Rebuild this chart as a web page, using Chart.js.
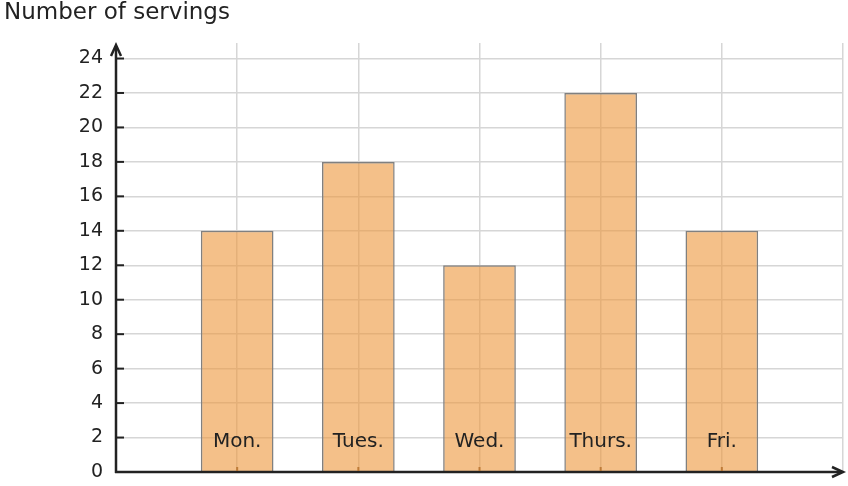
<!DOCTYPE html>
<html>
<head>
<meta charset="utf-8">
<script src="https://cdn.jsdelivr.net/npm/chart.js@4"></script>
<style>
  html, body { margin: 0; padding: 0; background: #fff; overflow: hidden; }
  #wrap { width: 848px; height: 486px; }
</style>
</head>
<body>
<div id="wrap"><canvas id="servings"></canvas></div>
<script>
// 요일별 급식 수
const days = ['', 'Mon.', 'Tues.', 'Wed.', 'Thurs.', 'Fri.', ''];
const servings = [null, 14, 18, 12, 22, 14, null];
const yTicks = [0, 2, 4, 6, 8, 10, 12, 14, 16, 18, 20, 22, 24];
const yTitle = 'Number of servings';

const FONT = '"DejaVu Sans", sans-serif';
const INK = '#222222';

// 축 화살표, 눈금, 요일 라벨
const axisDecor = {
    id: 'axisDecor',
    afterDatasetsDraw(chart) {
        const ctx = chart.ctx;
        const x = chart.scales.x, y = chart.scales.y;
        const left = chart.chartArea.left, bottom = y.getPixelForValue(0);
        ctx.save();
        ctx.strokeStyle = INK;
        ctx.fillStyle = INK;
        ctx.lineWidth = 2.5;

        // y축
        ctx.beginPath();
        ctx.moveTo(left, bottom + 1);
        ctx.lineTo(left, 46);
        ctx.stroke();
        ctx.beginPath();
        ctx.moveTo(left - 5, 56);
        ctx.lineTo(left, 45);
        ctx.lineTo(left + 5, 56);
        ctx.stroke();

        // x축
        ctx.beginPath();
        ctx.moveTo(left - 1, bottom);
        ctx.lineTo(841, bottom);
        ctx.stroke();
        ctx.beginPath();
        ctx.moveTo(832, bottom - 5);
        ctx.lineTo(843, bottom);
        ctx.lineTo(832, bottom + 5);
        ctx.stroke();

        // y 눈금
        ctx.lineWidth = 2;
        yTicks.forEach(v => {
            const py = y.getPixelForValue(v);
            ctx.beginPath();
            ctx.moveTo(left, py);
            ctx.lineTo(left + 8, py);
            ctx.stroke();
        });

        // 요일 라벨 (막대 안쪽)
        ctx.font = '20px ' + FONT;
        ctx.textAlign = 'center';
        ctx.textBaseline = 'middle';
        days.forEach((d, i) => {
            if (!d) return;
            const px = x.getPixelForValue(i);
            ctx.fillStyle = 'rgba(180,110,40,0.8)';
            ctx.fillRect(px - 1, bottom - 5, 2, 4);
            ctx.fillStyle = INK;
            ctx.fillText(d, px, 442);
        });

        // 제목
        ctx.textAlign = 'left';
        ctx.textBaseline = 'middle';
        ctx.font = '23px ' + FONT;
        ctx.fillText(yTitle, 4, 13);
        ctx.restore();
    }
};

new Chart(document.getElementById('servings'), {
    type: 'bar',
    data: {
        labels: days,
        datasets: [{
            data: servings,
            backgroundColor: 'rgba(236,150,58,0.6)',
            borderColor: '#808080',
            borderWidth: 1.5,
            categoryPercentage: 1,
            barPercentage: 0.6
        }]
    },
    options: {
        responsive: true,
        maintainAspectRatio: false,
        animation: false,
        layout: { padding: { top: 43, right: 5, left: 0, bottom: 14 } },
        plugins: {
            legend: { display: false },
            tooltip: { enabled: false }
        },
        scales: {
            x: {
                type: 'category',
                offset: false,
                grid: { color: '#d6d6d6', lineWidth: 1.5, drawTicks: false, offset: false },
                border: { display: false },
                ticks: { display: false },
                afterFit: s => { s.height = 0; }
            },
            y: {
                min: 0,
                max: 24.9,
                afterBuildTicks: s => { s.ticks = yTicks.map(v => ({ value: v })); },
                grid: { color: '#d6d6d6', lineWidth: 1.5, drawTicks: false },
                border: { display: false },
                ticks: {
                    padding: 13,
                    color: INK,
                    font: { family: FONT, size: 19 }
                },
                afterFit: s => {
                    s.width = 116;
                    s.paddingTop = 0;
                    s.paddingBottom = 0;
                }
            }
        }
    },
    plugins: [axisDecor]
});
</script>
</body>
</html>
